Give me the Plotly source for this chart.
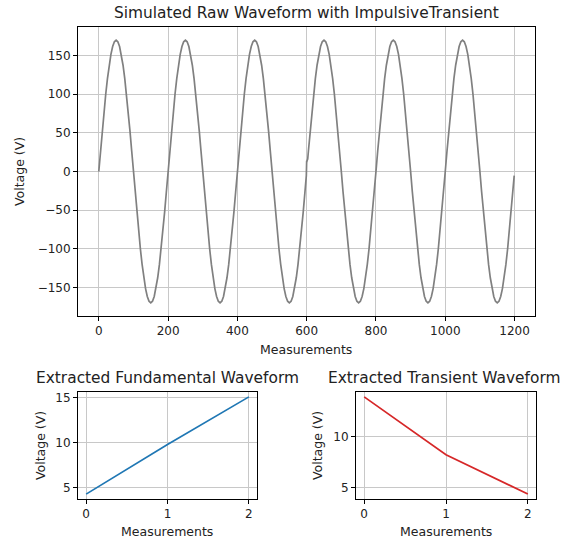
import plotly.graph_objects as go

# ---- data ----
raw_x = list(range(0, 600, 5)) + [599, 600, 601, 602, 603] + list(range(605, 1200, 5)) + [1199]
raw_y = [
    # samples 0-195
    0, 26.6, 52.5, 77.2, 100, 120.2, 137.5, 151.5, 161.7, 167.9, 170, 167.9, 161.7, 151.5, 137.5, 120.2, 100, 77.2, 52.5, 26.6,
    0, -26.6, -52.5, -77.2, -100, -120.2, -137.5, -151.5, -161.7, -167.9, -170, -167.9, -161.7, -151.5, -137.5, -120.2, -100, -77.2, -52.5, -26.6,
    # samples 200-395
    0, 26.6, 52.5, 77.2, 100, 120.2, 137.5, 151.5, 161.7, 167.9, 170, 167.9, 161.7, 151.5, 137.5, 120.2, 100, 77.2, 52.5, 26.6,
    0, -26.6, -52.5, -77.2, -100, -120.2, -137.5, -151.5, -161.7, -167.9, -170, -167.9, -161.7, -151.5, -137.5, -120.2, -100, -77.2, -52.5, -26.6,
    # samples 400-595
    0, 26.6, 52.5, 77.2, 100, 120.2, 137.5, 151.5, 161.7, 167.9, 170, 167.9, 161.7, 151.5, 137.5, 120.2, 100, 77.2, 52.5, 26.6,
    0, -26.6, -52.5, -77.2, -100, -120.2, -137.5, -151.5, -161.7, -167.9, -170, -167.9, -161.7, -151.5, -137.5, -120.2, -100, -77.2, -52.5, -26.6,
    # samples 599-603 (impulsive transient)
    -5.3, 13.8, 13.5, 15.1, 16.0,
    # samples 605-795
    26.6, 52.5, 77.2, 100, 120.2, 137.5, 151.5, 161.7, 167.9, 170, 167.9, 161.7, 151.5, 137.5, 120.2, 100, 77.2, 52.5, 26.6,
    0, -26.6, -52.5, -77.2, -100, -120.2, -137.5, -151.5, -161.7, -167.9, -170, -167.9, -161.7, -151.5, -137.5, -120.2, -100, -77.2, -52.5, -26.6,
    # samples 800-995
    0, 26.6, 52.5, 77.2, 100, 120.2, 137.5, 151.5, 161.7, 167.9, 170, 167.9, 161.7, 151.5, 137.5, 120.2, 100, 77.2, 52.5, 26.6,
    0, -26.6, -52.5, -77.2, -100, -120.2, -137.5, -151.5, -161.7, -167.9, -170, -167.9, -161.7, -151.5, -137.5, -120.2, -100, -77.2, -52.5, -26.6,
    # samples 1000-1195
    0, 26.6, 52.5, 77.2, 100, 120.2, 137.5, 151.5, 161.7, 167.9, 170, 167.9, 161.7, 151.5, 137.5, 120.2, 100, 77.2, 52.5, 26.6,
    0, -26.6, -52.5, -77.2, -100, -120.2, -137.5, -151.5, -161.7, -167.9, -170, -167.9, -161.7, -151.5, -137.5, -120.2, -100, -77.2, -52.5, -26.6,
    # sample 1199
    -5.3,
]
fund_x = [0, 1, 2]
fund_y = [4.3, 9.8, 15.1]
trans_x = [0, 1, 2]
trans_y = [13.9, 8.25, 4.4]

raw_ticks = [0, 200, 400, 600, 800, 1000, 1200]
raw_yticks = [-150, -100, -50, 0, 50, 100, 150]
small_xticks = [0, 1, 2]
fund_yticks = [5, 10, 15]
trans_yticks = [5, 10]

W, H = 584, 539
FONT = "DejaVu Sans"

def px(v):
    return v / W

def py(v):
    return 1 - v / H

fig = go.Figure()
fig.add_trace(go.Scatter(x=raw_x, y=raw_y, mode="lines", line=dict(color="#808080", width=1.7),
                         xaxis="x", yaxis="y", showlegend=False))
fig.add_trace(go.Scatter(x=fund_x, y=fund_y, mode="lines", line=dict(color="#1f77b4", width=1.7),
                         xaxis="x2", yaxis="y2", showlegend=False))
fig.add_trace(go.Scatter(x=trans_x, y=trans_y, mode="lines", line=dict(color="#d62728", width=1.7),
                         xaxis="x3", yaxis="y3", showlegend=False))

ax = dict(showline=True, linecolor="black", linewidth=1, mirror=True, ticks="outside", ticklen=4,
          tickcolor="black", tickwidth=1, showgrid=True, gridcolor="#c8c8c8", gridwidth=1,
          zeroline=False, tickfont=dict(family=FONT, size=12, color="#222222"))

fig.update_layout(
    width=W, height=H, margin=dict(l=0, r=0, t=0, b=0),
    paper_bgcolor="white", plot_bgcolor="white",
    font=dict(family=FONT, color="#222222"),
    xaxis=dict(ax, domain=[px(78), px(535)], range=[-60, 1259], tickvals=raw_ticks, anchor="y"),
    yaxis=dict(ax, domain=[py(316), py(27)], range=[-187, 187], tickvals=raw_yticks, anchor="x"),
    xaxis2=dict(ax, domain=[px(78), px(257)], range=[-0.1, 2.1], tickvals=small_xticks, anchor="y2"),
    yaxis2=dict(ax, domain=[py(499), py(392)], range=[3.76, 15.64], tickvals=fund_yticks, anchor="x2"),
    xaxis3=dict(ax, domain=[px(356), px(536)], range=[-0.1, 2.1], tickvals=small_xticks, anchor="y3"),
    yaxis3=dict(ax, domain=[py(499), py(392)], range=[3.92, 14.38], tickvals=trans_yticks, anchor="x3"),
)

ann = []
def text(t, x, y, size, angle=0):
    ann.append(dict(text=t, x=px(x), y=py(y), xref="paper", yref="paper", showarrow=False,
                    xanchor="center", yanchor="middle", textangle=angle,
                    font=dict(family=FONT, size=size, color="#222222")))

text("Simulated Raw Waveform with ImpulsiveTransient", 306, 13, 15.4)
text("Extracted Fundamental Waveform", 167, 378, 15.4)
text("Extracted Transient Waveform", 444, 378, 15.4)
text("Measurements", 306, 349, 12.5)
text("Measurements", 167, 531, 12.5)
text("Measurements", 446, 531, 12.5)
text("Voltage (V)", 19, 172, 12.5, -90)
text("Voltage (V)", 40, 446, 12.5, -90)
text("Voltage (V)", 317, 446, 12.5, -90)
fig.update_layout(annotations=ann)

fig.write_html("out.html", config={"displayModeBar": False},
               post_script="document.body.style.margin='0';document.body.style.overflow='hidden';")
